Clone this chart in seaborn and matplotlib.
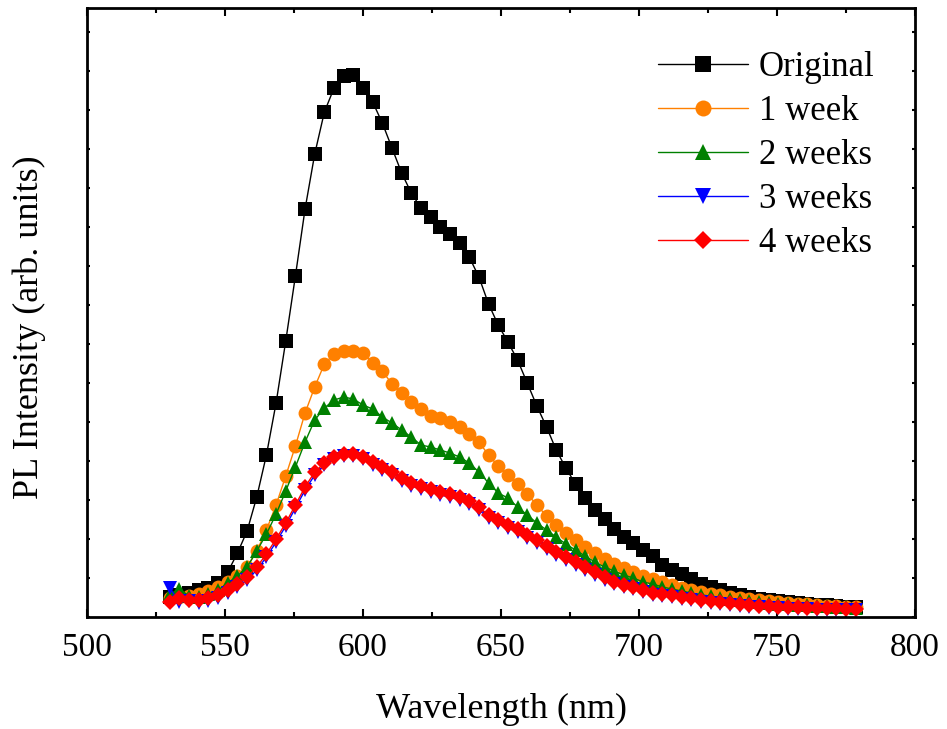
import matplotlib
matplotlib.use("Agg")
import matplotlib.pyplot as plt
from matplotlib.ticker import MultipleLocator, NullFormatter
import seaborn as sns


# ==========================================================
# DATA (arbitrary units)
# ==========================================================

wavelength = [
    530, 533.5, 537, 540.5, 544, 547.5, 551, 554.5, 558, 561.5,
    565, 568.5, 572, 575.5, 579, 582.5, 586, 589.5, 593, 596.5,
    600, 603.5, 607, 610.5, 614, 617.5, 621, 624.5, 628, 631.5,
    635, 638.5, 642, 645.5, 649, 652.5, 656, 659.5, 663, 666.5,
    670, 673.5, 677, 680.5, 684, 687.5, 691, 694.5, 698, 701.5,
    705, 708.5, 712, 715.5, 719, 722.5, 726, 729.5, 733, 736.5,
    740, 743.5, 747, 750.5, 754, 757.5, 761, 764.5, 768, 771.5,
    775, 778.5,
]

original = [
    20, 22, 24, 27, 29, 34, 45, 64, 86, 120,
    162, 214, 276, 341, 408, 463, 505, 529, 541, 542,
    529, 515, 494, 469, 444, 424, 409, 400, 390, 383,
    374, 360, 340, 313, 292, 275, 257, 234, 211, 190,
    167, 149, 133, 119, 107, 98, 88, 80, 74, 67,
    61, 52, 47, 43, 38, 33, 30, 27, 24, 22,
    20, 18, 17, 16, 15, 14, 13, 12, 12, 11,
    10, 10,
]

week1 = [
    19, 20, 21, 23, 26, 30, 35, 41, 50, 66,
    87, 112, 141, 171, 204, 230, 253, 263, 266, 266,
    264, 254, 246, 233, 224, 215, 208, 201, 199, 195,
    190, 183, 175, 162, 151, 142, 133, 123, 112, 101,
    92, 84, 77, 70, 64, 58, 53, 49, 45, 41,
    38, 35, 32, 29, 27, 25, 23, 22, 20, 19,
    18, 17, 16, 15, 14, 13, 13, 12, 11, 11,
    10, 10,
]

week2 = [
    23, 28, 21, 20, 23, 27, 34, 41, 50, 66,
    83, 103, 126, 150, 175, 197, 209, 217, 220, 218,
    212, 208, 200, 194, 187, 180, 172, 170, 167, 164,
    160, 154, 145, 134, 124, 119, 110, 102, 94, 87,
    80, 73, 67, 61, 55, 50, 46, 42, 39, 35,
    33, 30, 28, 26, 24, 22, 21, 19, 18, 17,
    16, 15, 14, 13, 13, 12, 12, 11, 11, 10,
    10, 9,
]

week3 = [
    29, 15, 16, 14, 16, 19, 24, 30, 37, 47,
    60, 75, 91, 109, 127, 142, 152, 158, 161, 161,
    158, 152, 147, 142, 136, 131, 128, 125, 122, 120,
    117, 113, 107, 99, 94, 89, 85, 79, 74, 68,
    62, 57, 52, 47, 42, 37, 33, 30, 28, 25,
    22, 21, 20, 18, 17, 15, 14, 13, 12, 11,
    10, 10, 9, 9, 8, 8, 8, 7, 7, 7,
    7, 7,
]

week4 = [
    15, 19, 17, 17, 19, 22, 27, 33, 40, 50,
    63, 78, 94, 112, 130, 145, 154, 160, 163, 163,
    160, 155, 150, 145, 139, 134, 131, 128, 125, 123,
    120, 116, 110, 102, 97, 92, 88, 82, 77, 71,
    65, 60, 55, 50, 45, 40, 35, 32, 30, 27,
    24, 23, 22, 20, 19, 17, 16, 15, 14, 13,
    12, 11, 11, 10, 10, 10, 9, 9, 9, 9,
    8, 8,
]

labels = ["Original", "1 week", "2 weeks", "3 weeks", "4 weeks"]
colors = ["#000000", "#FF8000", "#008000", "#0000FF", "#FF0000"]
markers = ["s", "o", "^", "v", "D"]
msizes = [10, 10, 10.5, 10.5, 8]


# ==========================================================
# STYLE
# ==========================================================

sns.set_style("ticks")
plt.rcParams["font.family"] = ["Liberation Serif", "DejaVu Serif"]
plt.rcParams["text.color"] = "black"
plt.rcParams["axes.labelcolor"] = "black"
plt.rcParams["xtick.color"] = "black"
plt.rcParams["ytick.color"] = "black"


# ==========================================================
# PLOT
# ==========================================================

fig = plt.figure(figsize=(9.47, 7.29), dpi=100)
ax = fig.add_axes([0.0919, 0.1536, 0.8743, 0.8354])

series = [original, week1, week2, week3, week4]
for vals, lab, col, mk, ms in zip(series, labels, colors, markers, msizes):
    sns.lineplot(
        x=wavelength, y=vals, ax=ax, color=col, marker=mk,
        markersize=ms, markeredgewidth=0, linewidth=1.0,
        label=lab, sort=False, estimator=None,
    )

ax.set_xlim(500, 800)
ax.set_ylim(0, 609)

ax.xaxis.set_major_locator(MultipleLocator(50))
ax.xaxis.set_minor_locator(MultipleLocator(25))
ax.yaxis.set_major_locator(MultipleLocator(39))
ax.yaxis.set_major_formatter(NullFormatter())

ax.tick_params(axis="x", which="major", direction="in", length=6, width=1.5,
               top=True, labelsize=24, pad=11)
ax.tick_params(axis="x", which="minor", direction="in", length=3.5, width=1.5,
               top=True)
ax.tick_params(axis="y", which="major", direction="in", length=2.5, width=1.5,
               right=True, left=True)

for sp in ax.spines.values():
    sp.set_visible(True)
    sp.set_linewidth(2)
    sp.set_color("black")

ax.set_xlabel("Wavelength (nm)", fontsize=26, labelpad=22)
ax.set_ylabel("PL Intensity (arb. units)", fontsize=26, labelpad=26)
ax.yaxis.label.set_y(0.476)

ax.legend(
    loc="upper left", bbox_to_anchor=(0.6896, 0.929), frameon=False,
    fontsize=25, handlelength=2.6, handletextpad=0.3, labelspacing=0.315,
    borderaxespad=0, borderpad=0, markerscale=1.15,
)

fig.savefig("out.png", dpi=100)
plt.close(fig)
